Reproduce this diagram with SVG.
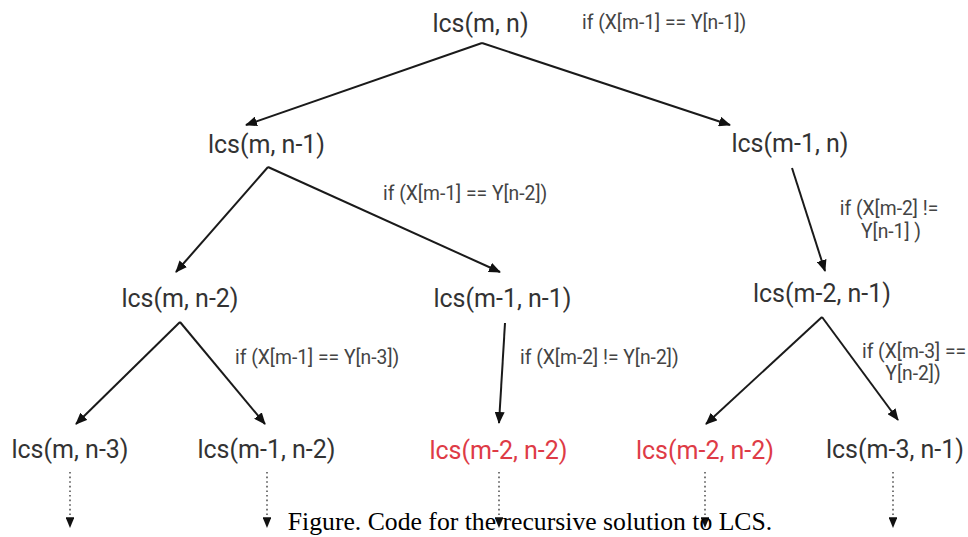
<svg xmlns="http://www.w3.org/2000/svg" width="968" height="537" viewBox="0 0 968 537">
<defs>
<marker id="ah" viewBox="0 0 12 10" refX="11" refY="5" markerWidth="6" markerHeight="5" orient="auto" markerUnits="strokeWidth">
<path d="M0,0 L12,5 L0,10 z" fill="#111"/>
</marker>
<marker id="ahd" viewBox="0 0 12 10" refX="11" refY="5" markerWidth="8" markerHeight="5.5" orient="auto" markerUnits="strokeWidth">
<path d="M0,0 L12,5 L0,10 z" fill="#111"/>
</marker>
</defs>
<style>
.n{font-family:Roboto,"Liberation Sans",sans-serif;font-size:25px;fill:#333;text-anchor:middle}
.r{fill:#de3b46}
.c{font-family:Roboto,"Liberation Sans",sans-serif;font-size:19.3px;fill:#444}
.m{text-anchor:middle}
.e{stroke:#1a1a1a;stroke-width:2;fill:none;marker-end:url(#ah)}
.d{stroke:#555;stroke-width:1.6;stroke-dasharray:1.6 3;fill:none;marker-end:url(#ahd)}
.cap{font-family:"Liberation Serif","Times New Roman",serif;font-size:25.7px;fill:#000;text-anchor:middle}
</style>
<rect width="968" height="537" fill="#fff"/>
<g id="connectors">
<path class="e" d="M482,43 L246,125"/>
<path class="e" d="M482,43 L730,125"/>
<path class="e" d="M268,167 L176,272"/>
<path class="e" d="M268,167 L500,272"/>
<path class="e" d="M792,168 L825,271"/>
<path class="e" d="M180,322 L76,424"/>
<path class="e" d="M180,322 L265,424"/>
<path class="e" d="M505,323 L499,423"/>
<path class="e" d="M822,317 L706,424"/>
<path class="e" d="M822,317 L898,420"/>
<path class="d" d="M70,472 L70,527"/>
<path class="d" d="M267,472 L267,527"/>
<path class="d" d="M499,472 L499,527"/>
<path class="d" d="M705,472 L705,527"/>
<path class="d" d="M893,472 L893,527"/>
</g>
<g id="n0"><text class="n" x="480.5" y="32">lcs(m, n)</text></g>
<g id="n1"><text class="n" x="266.5" y="153">lcs(m, n-1)</text></g>
<g id="n2"><text class="n" x="790" y="152">lcs(m-1, n)</text></g>
<g id="n3"><text class="n" x="180" y="307">lcs(m, n-2)</text></g>
<g id="n4"><text class="n" x="502.5" y="307">lcs(m-1, n-1)</text></g>
<g id="n5"><text class="n" x="822" y="302">lcs(m-2, n-1)</text></g>
<g id="n6"><text class="n" x="70" y="458">lcs(m, n-3)</text></g>
<g id="n7"><text class="n" x="266.5" y="458">lcs(m-1, n-2)</text></g>
<g id="n8"><text class="n r" x="498.5" y="459">lcs(m-2, n-2)</text></g>
<g id="n9"><text class="n r" x="705" y="459">lcs(m-2, n-2)</text></g>
<g id="n10"><text class="n" x="895" y="458">lcs(m-3, n-1)</text></g>
<g id="labels">
<text class="c" x="582" y="29">if (X[m-1] == Y[n-1])</text>
<text class="c" x="383" y="200">if (X[m-1] == Y[n-2])</text>
<text class="c m" x="889" y="215">if (X[m-2] !=</text>
<text class="c m" x="891" y="238">Y[n-1] )</text>
<text class="c" x="235" y="364">if (X[m-1] == Y[n-3])</text>
<text class="c" x="520" y="364">if (X[m-2] != Y[n-2])</text>
<text class="c m" x="914" y="358">if (X[m-3] ==</text>
<text class="c m" x="913" y="380">Y[n-2])</text>
</g>
<text class="cap" x="530" y="530">Figure. Code for the recursive solution to LCS.</text>
</svg>
